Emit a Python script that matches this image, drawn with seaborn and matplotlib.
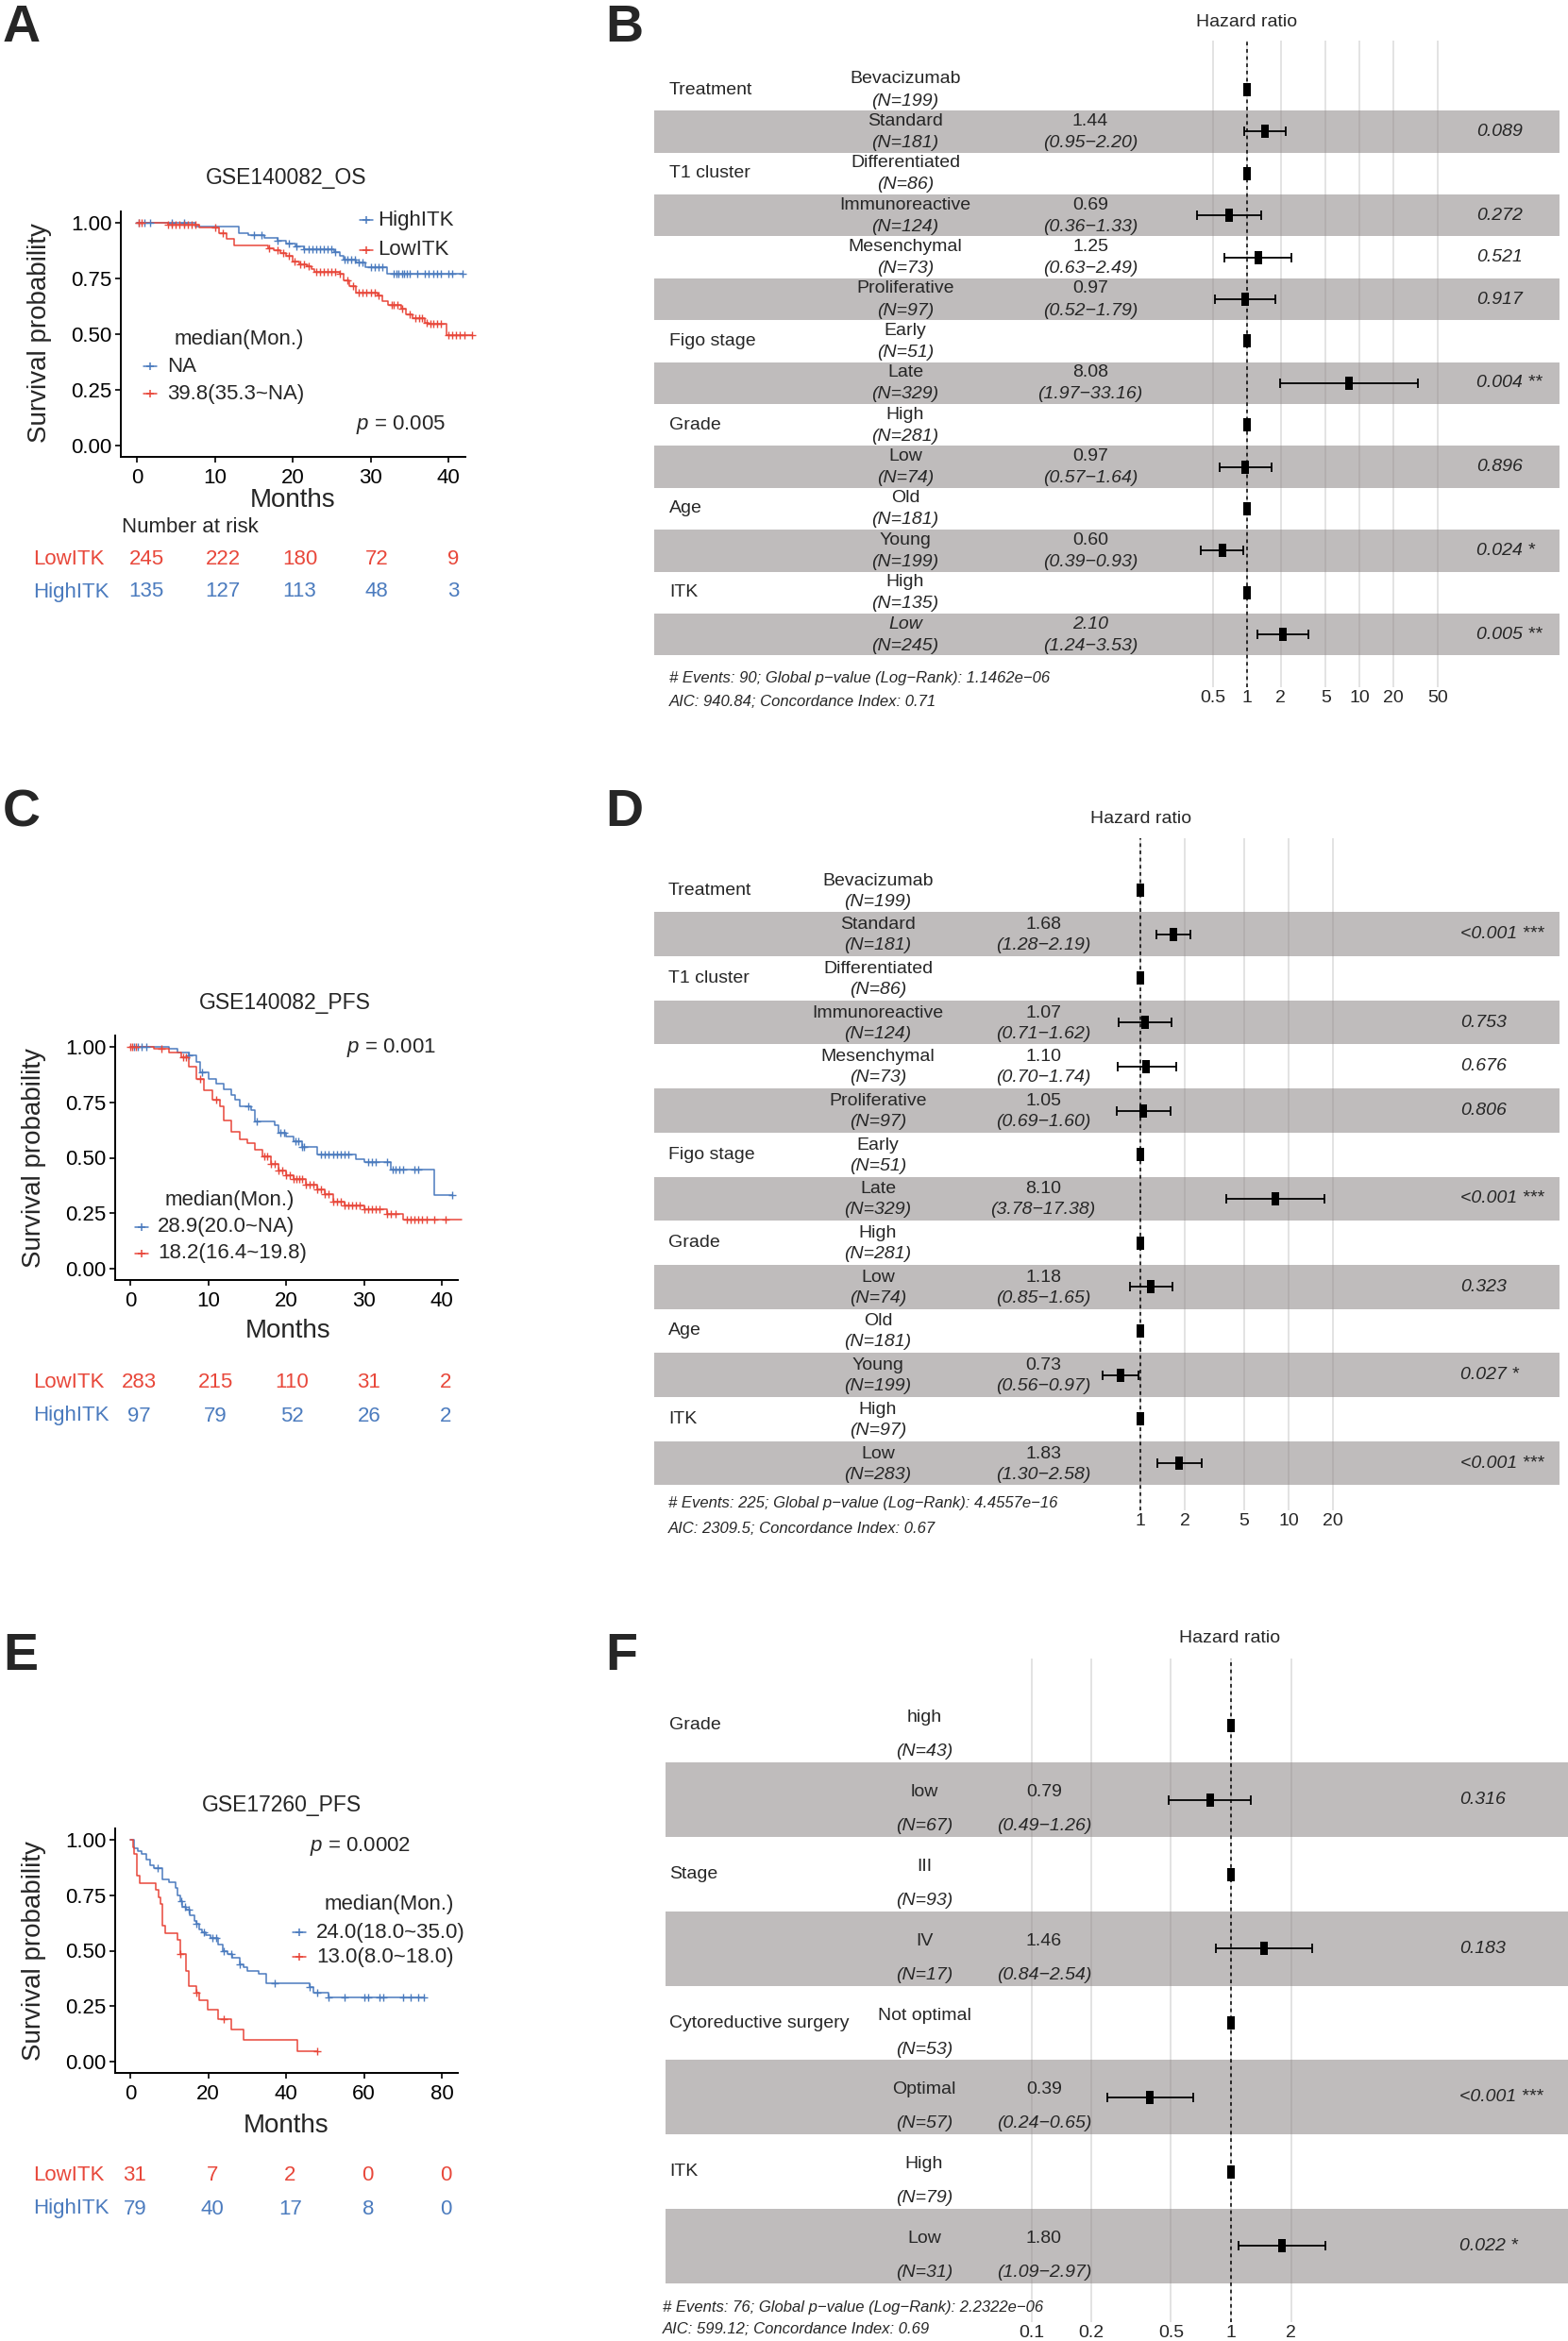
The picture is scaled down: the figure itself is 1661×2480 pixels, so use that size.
import numpy as np
import matplotlib
matplotlib.use("Agg")
import matplotlib.pyplot as plt
import seaborn as sns
from matplotlib.ticker import NullLocator
from matplotlib.transforms import blended_transform_factory

sns.set_style("ticks")
plt.rcParams["font.family"] = ["Liberation Sans", "DejaVu Sans"]
plt.rcParams["mathtext.fontset"] = "custom"
plt.rcParams["mathtext.rm"] = "Liberation Sans"
plt.rcParams["mathtext.it"] = "Liberation Sans:italic"

RED = "#E8473A"
BLUE = "#4B7BBE"
STRIPE = "#8C8585"
nan = np.nan

# ---------------- A: GSE140082 OS ----------------
os_high_t = [0, 7.5, 13.1, 14.3, 16.4, 18, 19.2, 20.4, 21.4, 25.3, 26, 26.5, 28.1, 29.3, 32.1]
os_high_s = [1.0, 0.983, 0.955, 0.944, 0.934, 0.92, 0.905, 0.892, 0.881, 0.87, 0.853, 0.835, 0.82, 0.80, 0.771]
os_high_end = 41.8
os_high_cens = [0.3, 1.0, 1.7, 4.5, 6.0, 15.0, 16.0, 18.0, 19.5, 20.5, 21.5, 22.0, 22.5, 23.0, 23.5,
                24.0, 24.5, 25.0, 25.5, 26.7, 27.0, 27.5, 28.0, 28.5, 29.0, 30.0, 30.5, 31.0, 31.5,
                33.0, 33.3, 33.6, 34.0, 34.3, 34.7, 35.0, 36.0, 37.0, 37.5, 38.0, 38.5, 39.0, 40.0,
                40.5, 41.8]
os_low_t = [0, 4, 8, 10.5, 11.5, 12.5, 16.8, 17.6, 18.4, 19.2, 20, 20.8, 21.8, 22.4, 22.8, 26,
            26.6, 27.3, 28.1, 30.9, 31.5, 32.3, 33.9, 34.5, 35.4, 37, 37.4, 39.8]
os_low_s = [1.0, 0.99, 0.98, 0.952, 0.93, 0.898, 0.884, 0.875, 0.865, 0.85, 0.828, 0.814, 0.806,
            0.792, 0.778, 0.77, 0.743, 0.715, 0.686, 0.672, 0.65, 0.63, 0.616, 0.587, 0.573,
            0.552, 0.545, 0.496]
os_low_end = 43.0
os_low_cens = [0.2, 0.6, 4.0, 4.5, 5.0, 5.5, 6.0, 6.5, 7.0, 7.5, 10.0, 11.0, 17.0, 18.0, 18.8,
               19.5, 20.2, 21.0, 21.5, 22.0, 23.0, 23.5, 24.0, 24.5, 25.0, 25.5, 26.0, 27.0, 27.7,
               28.5, 29.0, 29.5, 30.0, 30.5, 31.0, 32.7, 33.0, 33.5, 34.0, 35.0, 35.8, 36.2, 36.6,
               37.2, 37.7, 38.0, 38.5, 39.0, 40.0, 40.5, 41.0, 41.5, 42.0, 43.0]
risk_times_a = [0, 10, 20, 30, 40]
risk_low_a = [245, 222, 180, 72, 9]
risk_high_a = [135, 127, 113, 48, 3]

# ---------------- C: GSE140082 PFS ----------------
pfs_high_t = [0, 5, 6, 7.5, 8.5, 9, 10, 11, 12, 13, 13.5, 14, 15.5, 16, 18.5, 19, 20, 21, 22,
              24, 29, 30, 33.5, 39]
pfs_high_s = [1.0, 0.99, 0.976, 0.962, 0.933, 0.883, 0.855, 0.834, 0.81, 0.784, 0.763, 0.73,
              0.713, 0.663, 0.645, 0.614, 0.595, 0.574, 0.55, 0.514, 0.493, 0.479, 0.446, 0.332]
pfs_high_end = 41.3
pfs_high_cens = [0.5, 1.0, 1.5, 2.0, 7.5, 9.2, 15.2, 16.2, 19.3, 19.7, 21.2, 21.6, 22.0, 22.3,
                 24.5, 25.0, 25.5, 26.0, 26.5, 27.0, 27.5, 28.0, 30.5, 31.0, 31.5, 33.0, 33.7,
                 34.0, 34.5, 35.0, 36.5, 37.0, 41.3]
pfs_low_t = [0, 3, 5, 6.5, 7.5, 8.5, 9.5, 10.5, 11.5, 12, 13, 14, 15, 16, 17, 18, 19, 20, 21,
             22.5, 24, 25, 26, 27.5, 30, 33, 35]
pfs_low_s = [1.0, 0.99, 0.976, 0.955, 0.912, 0.855, 0.805, 0.763, 0.734, 0.67, 0.617, 0.585,
             0.564, 0.536, 0.507, 0.472, 0.443, 0.422, 0.403, 0.379, 0.358, 0.337, 0.301, 0.287,
             0.266, 0.247, 0.223]
pfs_low_end = 42.6
pfs_low_cens = [0.0, 0.3, 0.7, 4.0, 6.8, 7.2, 9.0, 11.0, 17.2, 17.6, 18.0, 18.5, 19.0, 19.5,
                20.0, 20.5, 21.0, 21.3, 21.7, 22.0, 22.5, 23.0, 23.5, 24.0, 24.5, 25.0, 25.5,
                26.0, 26.5, 27.0, 27.5, 28.0, 28.5, 29.0, 29.5, 30.0, 30.5, 31.0, 31.5, 32.0,
                33.0, 33.5, 34.0, 35.5, 36.0, 36.5, 37.0, 37.5, 38.0, 39.0, 40.5]
risk_times_c = [0, 10, 20, 30, 40]
risk_low_c = [283, 215, 110, 31, 2]
risk_high_c = [97, 79, 52, 26, 2]

# ---------------- E: GSE17260 PFS ----------------
g17_high_t = [0, 1, 2, 3, 4, 5, 6, 8.2, 10, 11.7, 12.2, 12.8, 13.3, 14.2, 15.2, 16.4, 17, 17.8,
              18.5, 19.5, 20.5, 22.6, 23.8, 25, 26.3, 28, 29, 30, 33, 35, 46, 47, 51]
g17_high_s = [1.0, 0.962, 0.949, 0.937, 0.911, 0.886, 0.873, 0.823, 0.81, 0.785, 0.747, 0.722,
              0.696, 0.684, 0.658, 0.633, 0.62, 0.595, 0.582, 0.569, 0.556, 0.528, 0.50, 0.484,
              0.47, 0.44, 0.425, 0.41, 0.395, 0.355, 0.335, 0.31, 0.29]
g17_high_end = 75.5
g17_high_cens = [7.0, 13.2, 14.0, 15.0, 17.0, 19.0, 21.0, 22.0, 24.0, 26.0, 28.0, 37.0, 46.0,
                 48.0, 51.0, 55.0, 60.0, 61.0, 64.0, 65.0, 70.0, 72.0, 74.0, 75.5]
g17_low_t = [0, 0.8, 1.0, 1.8, 2.4, 6.5, 7.2, 7.8, 8.3, 9.0, 12.2, 12.8, 14.2, 15.0, 17.0,
             17.8, 19.8, 22.6, 25.9, 29.1, 42.8]
g17_low_s = [1.0, 0.968, 0.935, 0.839, 0.806, 0.774, 0.742, 0.71, 0.613, 0.58, 0.548, 0.484,
             0.41, 0.34, 0.31, 0.275, 0.232, 0.19, 0.145, 0.097, 0.048]
g17_low_end = 48.0
g17_low_cens = [12.8, 17.0, 24.0, 48.0]
risk_times_e = [0, 20, 40, 60, 80]
risk_low_e = [31, 7, 2, 0, 0]
risk_high_e = [79, 40, 17, 8, 0]

# ---------------- B / D: GSE140082 Cox models ----------------
bd_vars = ["Treatment", "", "T1 cluster", "", "", "", "Figo stage", "", "Grade", "", "Age", "", "ITK", ""]
bd_levels = ["Bevacizumab", "Standard", "Differentiated", "Immunoreactive", "Mesenchymal",
             "Proliferative", "Early", "Late", "High", "Low", "Old", "Young", "High", "Low"]

b_n = [199, 181, 86, 124, 73, 97, 51, 329, 281, 74, 181, 199, 135, 245]
b_hr = [1, 1.44, 1, 0.69, 1.25, 0.97, 1, 8.08, 1, 0.97, 1, 0.60, 1, 2.10]
b_lo = [nan, 0.95, nan, 0.36, 0.63, 0.52, nan, 1.97, nan, 0.57, nan, 0.39, nan, 1.24]
b_hi = [nan, 2.20, nan, 1.33, 2.49, 1.79, nan, 33.16, nan, 1.64, nan, 0.93, nan, 3.53]
b_p = ["", "0.089", "", "0.272", "0.521", "0.917", "", "0.004 **", "", "0.896", "", "0.024 *", "", "0.005 **"]
b_foot = ["# Events: 90; Global p\u2212value (Log\u2212Rank): 1.1462e\u221206",
          "AIC: 940.84; Concordance Index: 0.71"]

d_n = [199, 181, 86, 124, 73, 97, 51, 329, 281, 74, 181, 199, 97, 283]
d_hr = [1, 1.68, 1, 1.07, 1.10, 1.05, 1, 8.10, 1, 1.18, 1, 0.73, 1, 1.83]
d_lo = [nan, 1.28, nan, 0.71, 0.70, 0.69, nan, 3.78, nan, 0.85, nan, 0.56, nan, 1.30]
d_hi = [nan, 2.19, nan, 1.62, 1.74, 1.60, nan, 17.38, nan, 1.65, nan, 0.97, nan, 2.58]
d_p = ["", "<0.001 ***", "", "0.753", "0.676", "0.806", "", "<0.001 ***", "", "0.323", "", "0.027 *", "", "<0.001 ***"]
d_foot = ["# Events: 225; Global p\u2212value (Log\u2212Rank): 4.4557e\u221216",
          "AIC: 2309.5; Concordance Index: 0.67"]

# ---------------- F: GSE17260 Cox model ----------------
f_vars = ["Grade", "", "Stage", "", "Cytoreductive surgery", "", "ITK", ""]
f_levels = ["high", "low", "III", "IV", "Not optimal", "Optimal", "High", "Low"]
f_n = [43, 67, 93, 17, 53, 57, 79, 31]
f_hr = [1, 0.79, 1, 1.46, 1, 0.39, 1, 1.80]
f_lo = [nan, 0.49, nan, 0.84, nan, 0.24, nan, 1.09]
f_hi = [nan, 1.26, nan, 2.54, nan, 0.65, nan, 2.97]
f_p = ["", "0.316", "", "0.183", "", "<0.001 ***", "", "0.022 *"]
f_foot = ["# Events: 76; Global p\u2212value (Log\u2212Rank): 2.2322e\u221206",
          "AIC: 599.12; Concordance Index: 0.69"]

# ---------------- layout helpers (pixel coordinates) ----------------
W, H = 1661, 2480
fig = plt.figure(figsize=(W / 100, H / 100), dpi=100)


def box(l, t, r, b):
    return fig.add_axes([l / W, 1 - b / H, (r - l) / W, (b - t) / H])


ov = box(0, 0, W, H)
ov.set_xlim(0, W)
ov.set_ylim(H, 0)
ov.axis("off")
ov.set_zorder(20)


def key(x, y, col):
    ov.plot([x - 7, x + 7], [y, y], color=col, lw=1.1)
    ov.plot([x], [y], marker="+", ms=6, mew=1.1, color=col)


def km_panel(curves, x0, unit, y1, y0, l, r, xticks):
    span = y0 - y1
    ax = box(l, y1 - 0.05 * span, r, y0 + 0.05 * span)
    for t, s, end, cens, col in curves:
        xs = list(t) + [end]
        ys = list(s) + [s[-1]]
        sns.lineplot(x=xs, y=ys, drawstyle="steps-post", color=col, lw=1.1, ax=ax,
                     estimator=None, sort=False, clip_on=False)
        idx = np.searchsorted(t, cens, side="right") - 1
        sns.scatterplot(x=cens, y=np.array(s)[idx], marker="+", s=32, color=col,
                        linewidth=1.0, ax=ax, clip_on=False, zorder=3)
    ax.set_xlim((l - x0) / unit, (r - x0) / unit)
    ax.set_ylim(-0.05, 1.05)
    ax.set_xticks(xticks)
    ax.set_xticklabels([str(v) for v in xticks])
    ax.set_yticks([0, 0.25, 0.5, 0.75, 1.0])
    ax.set_yticklabels(["0.00", "0.25", "0.50", "0.75", "1.00"])
    ax.tick_params(labelsize=16, length=4, width=1.2, color="black", labelcolor="black")
    ax.tick_params(axis="y", pad=3)
    ax.tick_params(axis="x", pad=5)
    sns.despine(ax=ax)
    for sp in ["left", "bottom"]:
        ax.spines[sp].set_linewidth(1.4)
        ax.spines[sp].set_color("black")
    ax.set_xlabel("")
    ax.set_ylabel("")
    return ax


def risk_table(times, low, high, px0, px1, y_low, y_high):
    ra = box(px0, y_low - 20, px1, y_high + 20)
    ra.set_xlim(times[0], times[-1])
    ra.set_ylim(y_high + 20, y_low - 20)
    ra.axis("off")
    for t, n in zip(times, low):
        ra.text(t, y_low, str(n), color=RED, ha="center", va="center", fontsize=16)
    for t, n in zip(times, high):
        ra.text(t, y_high, str(n), color=BLUE, ha="center", va="center", fontsize=16)
    ov.text(35, y_low, "LowITK", color=RED, ha="left", va="center", fontsize=16)
    ov.text(35, y_high, "HighITK", color=BLUE, ha="left", va="center", fontsize=16)


RECT = [(-0.62, -1), (0.62, -1), (0.62, 1), (-0.62, 1), (-0.62, -1)]


def forest(vars_, levels, ns, hrs, los, his, ps, top, bottom, left, right, one_px, dec_px,
           row0, rowh, cols, name_dy, n_dy, ticks, foot, foot_x, foot_y, title_xy,
           italic_rows=()):
    ax = box(left, top, right, bottom)
    ax.set_xscale("log")
    rows = np.arange(len(levels))
    hr = np.array(hrs, dtype=float)
    lo = np.array(los, dtype=float)
    hi = np.array(his, dtype=float)
    for k in rows[1::2]:
        ax.axhspan(k - 0.5, k + 0.5, color=STRIPE, alpha=0.55, lw=0, zorder=1)
    ax.axvline(1, color="black", lw=1.1, ls=(0, (2.5, 2.5)), zorder=2)
    ci = rows[~np.isnan(lo)]
    ax.errorbar(hr[ci], ci, xerr=[hr[ci] - lo[ci], hi[ci] - hr[ci]], fmt="none",
                ecolor="black", elinewidth=1.3, capsize=3.5, capthick=1.3, zorder=3)
    sns.scatterplot(x=hr, y=rows, marker=RECT, s=100, color="black", linewidth=0,
                    ax=ax, zorder=4)
    ax.set_xlim(10 ** ((left - one_px) / dec_px), 10 ** ((right - one_px) / dec_px))
    ax.set_ylim((bottom - row0) / rowh, (top - row0) / rowh)
    ax.set_xticks(ticks)
    ax.set_xticklabels([("%g" % v) for v in ticks])
    ax.xaxis.set_minor_locator(NullLocator())
    ax.set_yticks([])
    ax.grid(axis="x", color="#DEDEDE", lw=1.2)
    ax.set_axisbelow(True)
    ax.tick_params(axis="x", length=0, labelsize=14, pad=2)
    for sp in ax.spines.values():
        sp.set_visible(False)
    ax.set_xlabel("")
    ax.set_ylabel("")
    ax.patch.set_alpha(0)

    tr = blended_transform_factory(ov.transData, ax.transData)
    for k in rows:
        ital = "italic" if k in italic_rows else "normal"
        if vars_[k]:
            ov.text(cols[0], k, vars_[k], transform=tr, ha="left", va="center", fontsize=14)
        ov.text(cols[1], k + name_dy / rowh, levels[k], transform=tr, ha="center",
                va="center", fontsize=14, style=ital)
        ov.text(cols[1], k + n_dy / rowh, "(N=%d)" % ns[k], transform=tr, ha="center",
                va="center", fontsize=14, style="italic")
        if not np.isnan(lo[k]):
            ov.text(cols[2], k + name_dy / rowh, "%.2f" % hr[k], transform=tr, ha="center",
                    va="center", fontsize=14, style=ital)
            ov.text(cols[2], k + n_dy / rowh, "(%.2f\u2212%.2f)" % (lo[k], hi[k]),
                    transform=tr, ha="center", va="center", fontsize=14, style="italic")
        if ps[k]:
            ov.text(cols[3], k, ps[k], transform=tr, ha="left", va="center", fontsize=14,
                    style="italic")
    ov.text(title_xy[0], title_xy[1], "Hazard ratio", ha="center", va="center", fontsize=14)
    ov.text(foot_x, foot_y[0], foot[0], ha="left", va="center", fontsize=12, style="italic")
    ov.text(foot_x, foot_y[1], foot[1], ha="left", va="center", fontsize=12, style="italic")
    return ax


# ---------------- panel A ----------------
km_panel([(os_high_t, os_high_s, os_high_end, os_high_cens, BLUE),
          (os_low_t, os_low_s, os_low_end, os_low_cens, RED)],
         x0=145, unit=8.25, y1=236, y0=472, l=128, r=493, xticks=[0, 10, 20, 30, 40])
ov.text(303, 189, "GSE140082_OS", ha="center", va="center", fontsize=16.5)
ov.text(42, 353, "Survival probability", rotation=90, ha="center", va="center", fontsize=20)
ov.text(310, 530, "Months", ha="center", va="center", fontsize=20)
key(388, 233, BLUE)
ov.text(400, 233, "HighITK", ha="left", va="center", fontsize=16)
key(388, 265, RED)
ov.text(400, 265, "LowITK", ha="left", va="center", fontsize=16)
ov.text(253, 360, "median(Mon.)", ha="center", va="center", fontsize=16)
key(159, 388, BLUE)
ov.text(177, 388, "NA", ha="left", va="center", fontsize=16)
key(159, 417, RED)
ov.text(177, 417, "39.8(35.3~NA)", ha="left", va="center", fontsize=16)
ov.text(377, 450, r"$\it{p}$ = 0.005", ha="left", va="center", fontsize=16)
ov.text(129, 558, "Number at risk", ha="left", va="center", fontsize=16)
risk_table(risk_times_a, risk_low_a, risk_high_a, 155, 480, 592, 627)

# ---------------- panel C ----------------
km_panel([(pfs_high_t, pfs_high_s, pfs_high_end, pfs_high_cens, BLUE),
          (pfs_low_t, pfs_low_s, pfs_low_end, pfs_low_cens, RED)],
         x0=138, unit=8.25, y1=1109, y0=1344, l=122, r=485, xticks=[0, 10, 20, 30, 40])
ov.text(302, 1062, "GSE140082_PFS", ha="center", va="center", fontsize=16.5)
ov.text(36, 1227, "Survival probability", rotation=90, ha="center", va="center", fontsize=20)
ov.text(305, 1410, "Months", ha="center", va="center", fontsize=20)
ov.text(367, 1110, r"$\it{p}$ = 0.001", ha="left", va="center", fontsize=16)
ov.text(243, 1272, "median(Mon.)", ha="center", va="center", fontsize=16)
key(150, 1300, BLUE)
ov.text(167, 1300, "28.9(20.0~NA)", ha="left", va="center", fontsize=16)
key(150, 1328, RED)
ov.text(167, 1328, "18.2(16.4~19.8)", ha="left", va="center", fontsize=16)
risk_table(risk_times_c, risk_low_c, risk_high_c, 147, 472, 1465, 1500)

# ---------------- panel E ----------------
km_panel([(g17_high_t, g17_high_s, g17_high_end, g17_high_cens, BLUE),
          (g17_low_t, g17_low_s, g17_low_end, g17_low_cens, RED)],
         x0=138, unit=4.125, y1=1949, y0=2184, l=122, r=485, xticks=[0, 20, 40, 60, 80])
ov.text(298, 1913, "GSE17260_PFS", ha="center", va="center", fontsize=16.5)
ov.text(36, 2067, "Survival probability", rotation=90, ha="center", va="center", fontsize=20)
ov.text(303, 2252, "Months", ha="center", va="center", fontsize=20)
ov.text(328, 1956, r"$\it{p}$ = 0.0002", ha="left", va="center", fontsize=16)
ov.text(412, 2017, "median(Mon.)", ha="center", va="center", fontsize=16)
key(317, 2047, BLUE)
ov.text(335, 2047, "24.0(18.0~35.0)", ha="left", va="center", fontsize=16)
key(317, 2073, RED)
ov.text(335, 2073, "13.0(8.0~18.0)", ha="left", va="center", fontsize=16)
risk_table(risk_times_e, risk_low_e, risk_high_e, 143, 472, 2305, 2340)

# ---------------- forest panels ----------------
forest(bd_vars, bd_levels, b_n, b_hr, b_lo, b_hi, b_p, top=43, bottom=728, left=693,
       right=1652, one_px=1321, dec_px=119, row0=95, rowh=44.4,
       cols=(709, 959, 1155, 1564), name_dy=-11, n_dy=12,
       ticks=[0.5, 1, 2, 5, 10, 20, 50], foot=b_foot, foot_x=709, foot_y=(718, 743),
       title_xy=(1321, 24), italic_rows=(13,))

forest(bd_vars, bd_levels, d_n, d_hr, d_lo, d_hi, d_p, top=888, bottom=1600, left=693,
       right=1652, one_px=1208, dec_px=157, row0=943, rowh=46.7,
       cols=(708, 930, 1105, 1547), name_dy=-10, n_dy=12,
       ticks=[1, 2, 5, 10, 20], foot=d_foot, foot_x=708, foot_y=(1593, 1620),
       title_xy=(1209, 867))

forest(f_vars, f_levels, f_n, f_hr, f_lo, f_hi, f_p, top=1757, bottom=2460, left=705,
       right=1661, one_px=1304, dec_px=211.5, row0=1828, rowh=78.75,
       cols=(709, 979, 1106, 1546), name_dy=-8, n_dy=28,
       ticks=[0.1, 0.2, 0.5, 1, 2], foot=f_foot, foot_x=702, foot_y=(2445, 2468),
       title_xy=(1303, 1736))

# ---------------- panel letters ----------------
for letter, x, y in [("A", 3, 44), ("B", 641, 44), ("C", 3, 875), ("D", 641, 875),
                     ("E", 3, 1769), ("F", 641, 1769)]:
    ov.text(x, y, letter, fontsize=40, fontweight="bold", ha="left", va="baseline")

fig.savefig("out.png", dpi=100)
